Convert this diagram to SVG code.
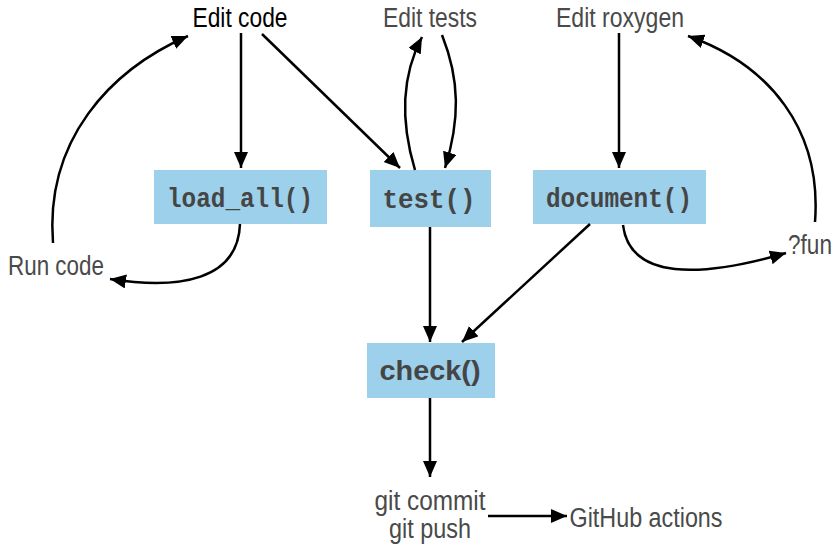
<svg xmlns="http://www.w3.org/2000/svg" width="839" height="551" viewBox="0 0 839 551">
  <style>
    .lbl { font-family: "Liberation Sans", Arial, sans-serif; font-size: 27px; fill: #4a4a4a; text-anchor: middle; }
    .box { fill: #9dd0ea; }
    .fn { font-family: "Liberation Mono", "DejaVu Sans Mono", monospace; font-weight: bold; font-size: 27px; fill: #454545; text-anchor: middle; }
    .fs { font-family: "Liberation Sans", Arial, sans-serif; font-weight: bold; font-size: 27px; fill: #454545; text-anchor: middle; }
    .edge { fill: none; stroke: #000; stroke-width: 2.5; marker-end: url(#arrow); }
  </style>
  <defs>
    <marker id="arrow" markerUnits="userSpaceOnUse" markerWidth="17" markerHeight="15" refX="16" refY="7" orient="auto">
      <path d="M0,0 L16,7 L0,14 z" fill="#000"/>
    </marker>
  </defs>
  <rect width="839" height="551" fill="#fff"/>

  <!-- nodes -->
  <g id="edit-code"><text class="lbl" x="240" y="27" style="fill:#000" textLength="95" lengthAdjust="spacingAndGlyphs">Edit code</text></g>
  <g id="edit-tests"><text class="lbl" x="430" y="27" textLength="94" lengthAdjust="spacingAndGlyphs">Edit tests</text></g>
  <g id="edit-roxygen"><text class="lbl" x="620" y="27" textLength="128" lengthAdjust="spacingAndGlyphs">Edit roxygen</text></g>
  <g id="run-code"><text class="lbl" x="56" y="275" textLength="96" lengthAdjust="spacingAndGlyphs">Run code</text></g>
  <g id="help-fun"><text class="lbl" x="810" y="254" textLength="44" lengthAdjust="spacingAndGlyphs">?fun</text></g>

  <g id="load-all">
    <rect class="box" x="154" y="170" width="173" height="54"/>
    <text class="fn" x="240" y="207" textLength="146" lengthAdjust="spacingAndGlyphs">load_all()</text>
  </g>
  <g id="test">
    <rect class="box" x="370" y="170" width="121" height="57"/>
    <text class="fn" x="429" y="208" textLength="93" lengthAdjust="spacingAndGlyphs">test()</text>
  </g>
  <g id="document">
    <rect class="box" x="533" y="170" width="173" height="54"/>
    <text class="fn" x="619" y="207" textLength="146" lengthAdjust="spacingAndGlyphs">document()</text>
  </g>
  <g id="check">
    <rect class="box" x="367" y="343" width="128" height="55"/>
    <text class="fs" x="430" y="380" textLength="101" lengthAdjust="spacingAndGlyphs">check()</text>
  </g>

  <g id="git">
    <text class="lbl" x="430" y="510" textLength="111" lengthAdjust="spacingAndGlyphs">git commit</text>
    <text class="lbl" x="430" y="538" textLength="82" lengthAdjust="spacingAndGlyphs">git push</text>
  </g>
  <g id="github-actions"><text class="lbl" x="646" y="527" textLength="153" lengthAdjust="spacingAndGlyphs">GitHub actions</text></g>

  <!-- connectors -->
  <g id="connectors">
    <path class="edge" d="M241,33 L241,168"/>
    <path class="edge" d="M262,34 L400,168"/>
    <path class="edge" d="M415,170 C400,120 402,75 422,37"/>
    <path class="edge" d="M442,35 C460,80 460,120 445,168"/>
    <path class="edge" d="M619,33 L619,168"/>
    <path class="edge" d="M815,222 C822,130 770,65 688,36"/>
    <path class="edge" d="M623,225 C630,280 700,278 786,253"/>
    <path class="edge" d="M590,224 L462,342"/>
    <path class="edge" d="M430,227 L430,342"/>
    <path class="edge" d="M240,224 C238,280 180,290 110,279"/>
    <path class="edge" d="M53,243 C45,140 110,70 188,36"/>
    <path class="edge" d="M430,398 L430,477"/>
    <path class="edge" d="M488,516 L567,516"/>
  </g>
</svg>
